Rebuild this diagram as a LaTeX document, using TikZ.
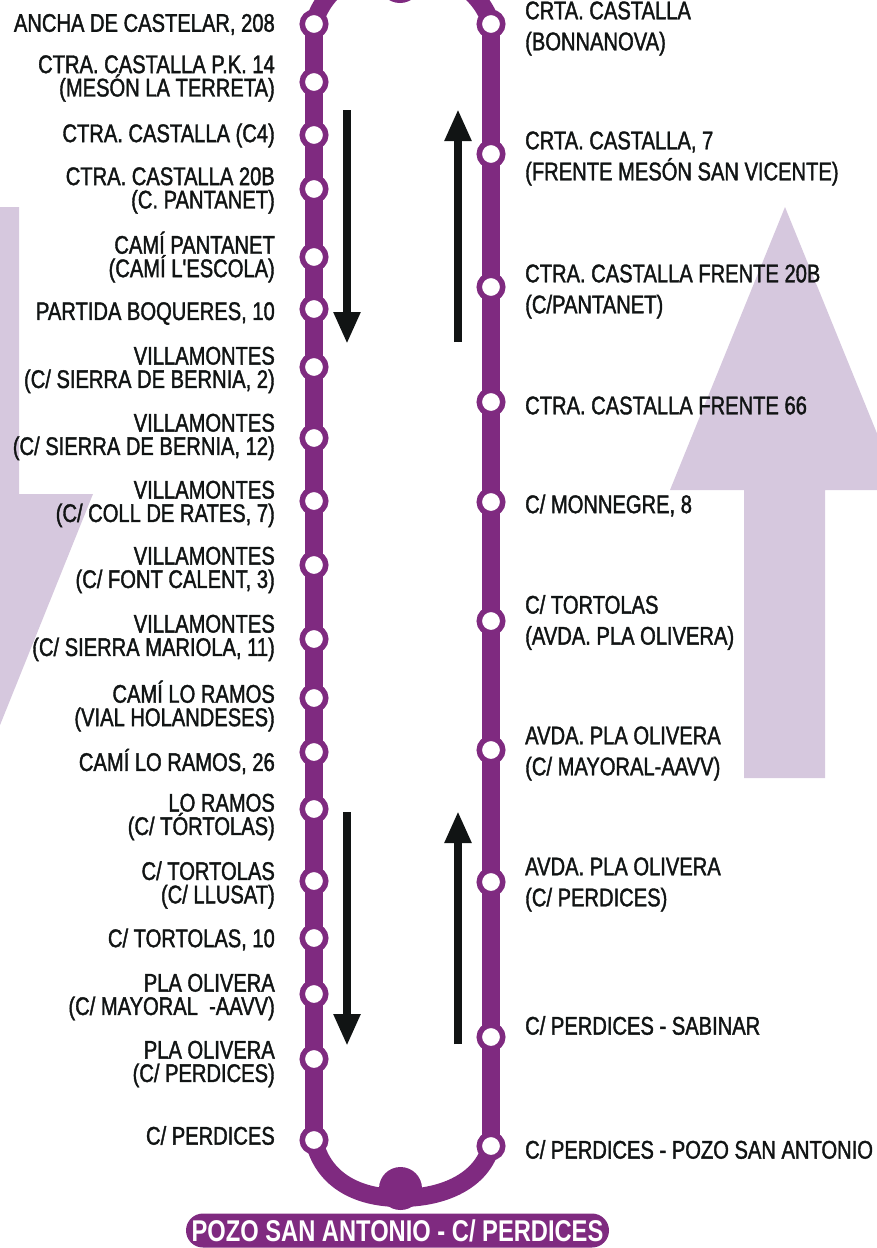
\documentclass[tikz,border=0pt]{standalone}
\usepackage{fontspec}
\setmainfont{Liberation Sans}
\newfontfamily\labfont[FakeStretch=0.79,FakeBold=1.5]{Liberation Sans}
\newfontfamily\pillfont[FakeStretch=0.79]{Liberation Sans Bold}
\usetikzlibrary{arrows.meta,backgrounds}
\definecolor{routepurple}{HTML}{7F2A80}
\definecolor{palelilac}{HTML}{D6C8DE}
\definecolor{inkblack}{HTML}{111414}
\tikzset{
 stopdot/.style={circle,draw=routepurple,fill=white,line width=5.5pt,outer sep=0pt,minimum size=23.5pt,inner sep=0pt},
 hubdot/.style={circle,fill=routepurple,minimum size=43pt,inner sep=0pt},
 route/.style={draw=routepurple,line width=18pt},
 leftlab/.style={anchor=east,align=right,inner sep=0pt,text=inkblack,font=\labfont\fontsize{25.5}{23.4}\selectfont},
 rightlab/.style={anchor=west,align=left,inner sep=0pt,text=inkblack,font=\labfont\fontsize{25.5}{31}\selectfont},
 flow/.style={draw=inkblack,fill=inkblack,line width=8pt,-{Triangle[length=32pt,width=25pt]}},
 bigflow/.style={fill=palelilac,draw=none},
 pill/.style={rounded corners=17pt,fill=routepurple,text=white,minimum width=423pt,minimum height=34pt,inner sep=0pt,font=\pillfont\fontsize{30}{30}\selectfont}
}
\begin{document}
\begin{tikzpicture}[x=1pt,y=-1pt]
\useasboundingbox (0,0) rectangle (876,1248);
\clip (0,0) rectangle (876,1248);
% stops, left branch
\foreach \n/\y in {1/24,2/82,3/135,4/189,5/257,6/309,7/367,8/438,9/501,10/565,11/639,12/698,13/752,14/809,15/881,16/938,17/994,18/1059,19/1140}
  \node[stopdot] (l\n) at (314,\y) {};
% stops, right branch
\foreach \n/\y in {1/24,2/154,3/287,4/402,5/502,6/621,7/750,8/882,9/1037,10/1146}
  \node[stopdot] (r\n) at (491,\y) {};
\node[hubdot] (hubtop) at (400,-18.5) {};
\node[hubdot] (hubbot) at (400.5,1188.5) {};
\begin{pgfonlayer}{background}
  \fill[bigflow] (785,207) -- (670,490) -- (744,490) -- (744,778) -- (825,778) -- (825,490) -- (900,490) -- cycle;
  \fill[bigflow] (-10,207) -- (19,207) -- (19,494) -- (93,494) -- (-10,750) -- cycle;
  \foreach \a [remember=\a as \b (initially 1)] in {2,...,19}
    \draw[route] (l\b.center) -- (l\a.center);
  \foreach \a [remember=\a as \b (initially 1)] in {2,...,10}
    \draw[route] (r\b.center) -- (r\a.center);
  \draw[route] (l1.center) .. controls (322,-8) and (355,-35) .. (400,-35) .. controls (445,-35) and (482,-8) .. (r1.center);
  \draw[route] (l19.center) .. controls (322,1178) and (355,1198) .. (400,1198) .. controls (445,1198) and (482,1180) .. (r10.center);
\end{pgfonlayer}
% direction arrows
\coordinate (fa1) at (347,110); \coordinate (fa2) at (347,344);
\coordinate (fb1) at (347,812); \coordinate (fb2) at (347,1046);
\coordinate (fc1) at (458,342); \coordinate (fc2) at (458,109);
\coordinate (fd1) at (458,1044); \coordinate (fd2) at (458,811);
\draw[flow] (fa1) -- (fa2);
\draw[flow] (fb1) -- (fb2);
\draw[flow] (fc1) -- (fc2);
\draw[flow] (fd1) -- (fd2);
% left labels
\node[leftlab] (tl1) at (275,24.5) {ANCHA DE CASTELAR, 208};
\node[leftlab] (tl2) at (275,78.5) {CTRA. CASTALLA P.K. 14\\(MESÓN LA TERRETA)};
\node[leftlab] (tl3) at (275,135.5) {CTRA. CASTALLA (C4)};
\node[leftlab] (tl4) at (275,190.5) {CTRA. CASTALLA 20B\\(C. PANTANET)};
\node[leftlab] (tl5) at (275,257) {CAMÍ PANTANET\\(CAMÍ L'ESCOLA)};
\node[leftlab] (tl6) at (275,313.5) {PARTIDA BOQUERES, 10};
\node[leftlab] (tl7) at (275,370) {VILLAMONTES\\(C/ SIERRA DE BERNIA, 2)};
\node[leftlab] (tl8) at (275,437) {VILLAMONTES\\(C/ SIERRA DE BERNIA, 12)};
\node[leftlab] (tl9) at (275,504) {VILLAMONTES\\(C/ COLL DE RATES, 7)};
\node[leftlab] (tl10) at (275,570) {VILLAMONTES\\(C/ FONT CALENT, 3)};
\node[leftlab] (tl11) at (275,638) {VILLAMONTES\\(C/ SIERRA MARIOLA, 11)};
\node[leftlab] (tl12) at (275,706) {CAMÍ LO RAMOS\\(VIAL HOLANDESES)};
\node[leftlab] (tl13) at (275,761.5) {CAMÍ LO RAMOS, 26};
\node[leftlab] (tl14) at (275,817) {LO RAMOS\\(C/ TÓRTOLAS)};
\node[leftlab] (tl15) at (275,885) {C/ TORTOLAS\\(C/ LLUSAT)};
\node[leftlab] (tl16) at (275,939.5) {C/ TORTOLAS, 10};
\node[leftlab] (tl17) at (275,997) {PLA OLIVERA\\(C/ MAYORAL\ \ -AAVV)};
\node[leftlab] (tl18) at (275,1064) {PLA OLIVERA\\(C/ PERDICES)};
\node[leftlab] (tl19) at (275,1135.5) {C/ PERDICES};
% right labels
\node[rightlab] (tr1) at (525,28.5) {CRTA. CASTALLA\\(BONNANOVA)};
\node[rightlab] (tr2) at (525,158.5) {CRTA. CASTALLA, 7\\(FRENTE MESÓN SAN VICENTE)};
\node[rightlab] (tr3) at (525,291.5) {CTRA. CASTALLA FRENTE 20B\\(C/PANTANET)};
\node[rightlab] (tr4) at (525,405.5) {CTRA. CASTALLA FRENTE 66};
\node[rightlab] (tr5) at (525,505.5) {C/ MONNEGRE, 8};
\node[rightlab] (tr6) at (525,622.5) {C/ TORTOLAS\\(AVDA. PLA OLIVERA)};
\node[rightlab] (tr7) at (525,753.5) {AVDA. PLA OLIVERA\\(C/ MAYORAL-AAVV)};
\node[rightlab] (tr8) at (525,884.5) {AVDA. PLA OLIVERA\\(C/ PERDICES)};
\node[rightlab] (tr9) at (525,1025.5) {C/ PERDICES - SABINAR};
\node[rightlab] (tr10) at (525,1149.5) {C/ PERDICES - POZO SAN ANTONIO};
% terminus pill
\node[pill] (term) at (397.5,1230.5) {POZO SAN ANTONIO - C/ PERDICES};
\end{tikzpicture}
\end{document}
